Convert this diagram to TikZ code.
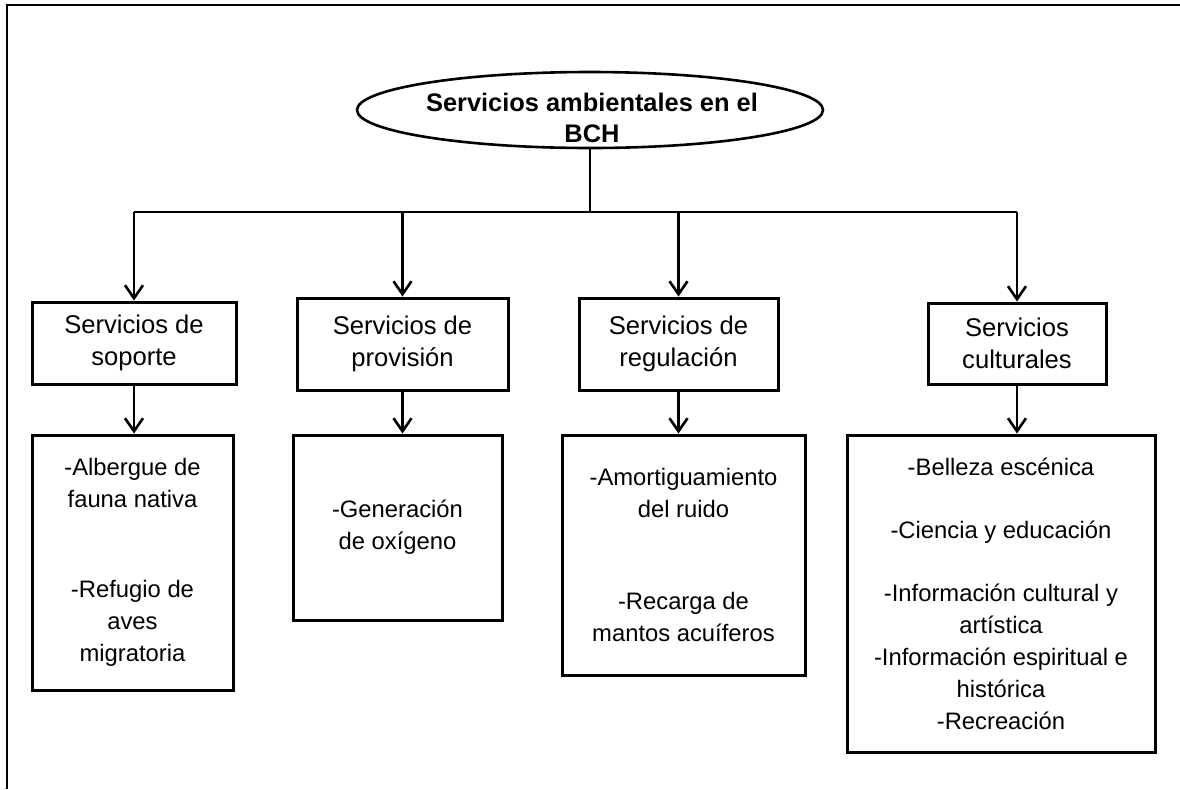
\documentclass[tikz,border=0pt]{standalone}
\usepackage{fontspec}
\setmainfont{Liberation Sans}
\usepackage{tikz}
\usetikzlibrary{shapes.geometric, arrows.meta}

\begin{document}
\begin{tikzpicture}[%
	x=0.5pt, y=-0.5pt,
	->,
	>={Straight Barb[length=6.5pt,width=9pt]}, line width=1.3pt,
	align=center,
	titulo/.style={ellipse, draw, line width=1.3pt, inner sep=0pt,
		minimum width=233pt, minimum height=38pt},
	titulotxt/.style={inner sep=0pt, font=\bfseries\fontsize{12.7}{15.5}\selectfont},
	tipo/.style={rectangle, draw, line width=1.5pt, inner sep=0pt,
		font=\fontsize{12.8}{15.75}\selectfont},
	lista/.style={rectangle, draw, line width=1.5pt, inner sep=0pt,
		font=\fontsize{11.9}{16}\selectfont}
	]
	\useasboundingbox (0,0) rectangle (1180,789);
	\draw[-, line width=1pt] (6.5,789) -- (6.5,5) -- (1180,5);
	
	\node[titulo] (bch) at (590,110) {};
	\node[titulotxt] (bchtxt) at (592,118) {Servicios ambientales en el\\BCH};
	
	\node[tipo, minimum width=102pt, minimum height=41pt] (sop) at (134,343) {Servicios de\\soporte};
	\node[tipo, minimum width=105.5pt, minimum height=46pt] (pro) at (402.5,344) {Servicios de\\provisión};
	\node[tipo, minimum width=99.5pt, minimum height=46pt] (reg) at (678.5,344) {Servicios de\\regulación};
	\node[tipo, minimum width=89pt, minimum height=40.5pt] (cul) at (1017,343.5) {Servicios\\culturales};
	
	\node[lista, minimum width=100.5pt, minimum height=127.5pt] (sopL) at (132.5,562.5)
		{-Albergue de\\fauna nativa\\[29pt]-Refugio de\\aves\\migratoria};
	\node[lista, minimum width=104.5pt, minimum height=92.5pt] (proL) at (397.5,527.5)
		{-Generación\\de oxígeno};
	\node[lista, minimum width=121.5pt, minimum height=120pt] (regL) at (683.5,555)
		{-Amortiguamiento\\del ruido\\[30pt]-Recarga de\\mantos acuíferos};
	\node[lista, minimum width=154pt, minimum height=158.5pt] (culL) at (1001,593.5)
		{-Belleza escénica\\[15.5pt]-Ciencia y educación\\[15.5pt]-Información cultural y\\artística\\-Información espiritual e\\histórica\\-Recreación};
	
	\coordinate (bus) at (590,212);
	\draw[-] (bch.south) -- (bch.south |- bus);
	\draw[-] (sop.north |- bus) -- (cul.north |- bus);
	
	\draw (sop.north |- bus) -- (sop.north);
	\draw (pro.north |- bus) -- (pro.north);
	\draw (reg.north |- bus) -- (reg.north);
	\draw (cul.north |- bus) -- (cul.north);
	
	\draw (sop.south) -- (sop.south |- sopL.north);
	\draw (pro.south) -- (pro.south |- proL.north);
	\draw (reg.south) -- (reg.south |- regL.north);
	\draw (cul.south) -- (cul.south |- culL.north);
\end{tikzpicture}
\end{document}
